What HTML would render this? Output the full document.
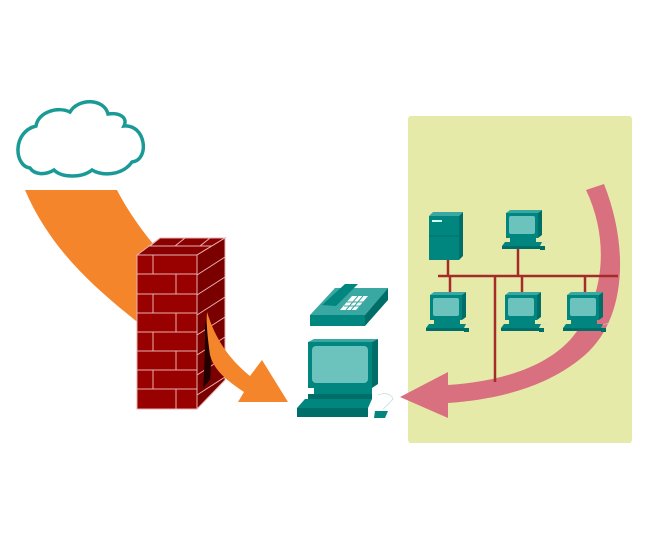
<!DOCTYPE html>
<html><head><meta charset="utf-8"><style>html,body{margin:0;padding:0;background:#fff}svg{display:block}</style></head><body>
<svg width="653" height="556" viewBox="0 0 653 556" xmlns="http://www.w3.org/2000/svg">
<defs>
<g id="pc">
  <polygon points="4,0 36,0 40,-3 8,-3" fill="#3aa8a2"/>
  <polygon points="36,0 40,-3 40,22 36,25" fill="#006e68"/>
  <rect x="4" y="0" width="32" height="25" fill="#00857f"/>
  <rect x="7" y="3" width="26" height="18" rx="2" fill="#6cc3bd"/>
  <rect x="8" y="25" width="26" height="4" fill="#00857f"/>
  <polygon points="3,29 40,29 38,33 0,33" fill="#00857f"/>
  <rect x="0" y="33" width="38" height="3" fill="#006e68"/>
  <rect x="38" y="33" width="5" height="4" fill="#006e68"/>
  <path d="M40,30 q6,-3 8,1" stroke="#cde" stroke-width="0.6" fill="none"/>
</g>
</defs>
<rect x="408" y="116" width="224" height="327" rx="3" fill="#e6eaa8"/>
<!-- cloud -->
<path d="M30,168 C14,166 12,132 36,126 C38,112 58,106 70,112 C78,98 104,98 108,114 C120,112 128,118 124,126 C146,124 150,160 132,162 C122,176 102,176 92,170 C82,178 62,178 54,170 C44,176 34,174 30,168 Z" fill="#fff" stroke="#1a9a96" stroke-width="3.5"/>
<path d="M25,190 L117,190 C130,215 145,235 165,258 L160,340 C110,300 55,260 25,190 Z" fill="#f5852a"/>
<!-- firewall -->
<polygon points="137,255 160,238 225,238 197,255" fill="#8a0000" stroke="#e8b0b0" stroke-width="1"/>
<polygon points="197,255 225,238 225,380 197,409" fill="#7a0000" stroke="#e8b0b0" stroke-width="1"/>
<rect x="137" y="255" width="60" height="154" fill="#990000" stroke="#e8b0b0" stroke-width="1"/>
<g stroke="#e8b0b0" stroke-width="1">
  <line x1="137" y1="274" x2="197" y2="274"/><line x1="137" y1="294" x2="197" y2="294"/>
  <line x1="137" y1="313" x2="197" y2="313"/><line x1="137" y1="332" x2="197" y2="332"/>
  <line x1="137" y1="351" x2="197" y2="351"/><line x1="137" y1="370" x2="197" y2="370"/>
  <line x1="137" y1="389" x2="197" y2="389"/>
  <line x1="153" y1="255" x2="153" y2="274"/><line x1="176" y1="274" x2="176" y2="294"/>
  <line x1="153" y1="294" x2="153" y2="313"/><line x1="176" y1="313" x2="176" y2="332"/>
  <line x1="153" y1="332" x2="153" y2="351"/><line x1="176" y1="351" x2="176" y2="370"/>
  <line x1="153" y1="370" x2="153" y2="389"/><line x1="176" y1="389" x2="176" y2="409"/>
  <line x1="197" y1="275" x2="225" y2="257"/><line x1="197" y1="295" x2="225" y2="277"/>
  <line x1="197" y1="315" x2="225" y2="297"/><line x1="197" y1="335" x2="225" y2="317"/>
  <line x1="197" y1="355" x2="225" y2="337"/><line x1="197" y1="375" x2="225" y2="357"/>
  <line x1="197" y1="395" x2="225" y2="377"/>
  <line x1="160" y1="238" x2="150" y2="246"/><line x1="185" y1="238" x2="175" y2="246"/><line x1="210" y1="238" x2="200" y2="246"/>
  <line x1="148" y1="246" x2="212" y2="246"/>
</g>
<path d="M205,320 C211,335 212,360 210,380 L203,388 C205,365 205,340 205,320 Z" fill="#200000"/>
<path d="M207,312 C215,338 228,358 250,376 L262,360 L288,402 L238,402 L244,392 C226,380 214,370 210,355 C208,340 206,325 207,312 Z" fill="#f5852a"/>
<!-- pink arrow (under network) -->
<path d="M586,190 L604,184 C630,250 625,320 585,355 C545,390 490,400 448,403 L448,418 L400,397 L448,372 L448,385 C490,382 540,372 570,340 C605,300 610,240 586,190 Z" fill="#d97080"/>
<!-- bus -->
<g stroke="#a52a2a" stroke-width="2.5">
  <line x1="438" y1="276" x2="618" y2="276"/>
  <line x1="448" y1="258" x2="448" y2="276"/>
  <line x1="518" y1="248" x2="518" y2="276"/>
  <line x1="450" y1="276" x2="450" y2="294"/>
  <line x1="522" y1="276" x2="522" y2="294"/>
  <line x1="585" y1="276" x2="585" y2="294"/>
  <line x1="495" y1="276" x2="495" y2="382"/>
</g>
<polygon points="429,216 433,212 463,212 459,216" fill="#3aa8a2"/>
<polygon points="459,216 463,212 463,256 459,260" fill="#006e68"/>
<rect x="429" y="216" width="30" height="44" fill="#00857f"/>
<rect x="432" y="220" width="10" height="2" fill="#cfe"/>
<line x1="429" y1="236" x2="459" y2="236" stroke="#006e68"/>
<use href="#pc" x="502" y="213"/>
<use href="#pc" x="426" y="295"/>
<use href="#pc" x="501" y="295"/>
<use href="#pc" x="563" y="295"/>
<!-- phone -->
<polygon points="310,315 335,288 388,288 365,315" fill="#3aa8a2"/>
<polygon points="365,315 388,288 388,300 365,326" fill="#006e68"/>
<rect x="310" y="315" width="55" height="11" fill="#00857f"/>
<polygon points="322,305 345,284 358,284 336,306" fill="#00857f"/>
<polygon points="340,310 352,296 368,296 356,310" fill="#fff"/>
<g stroke="#3aa8a2" stroke-width="1"><line x1="344" y1="306" x2="360" y2="306"/><line x1="347" y1="302" x2="363" y2="302"/><line x1="346" y1="310" x2="358" y2="296"/><line x1="351" y1="310" x2="363" y2="296"/></g>
<!-- big pc -->
<polygon points="308,342 372,342 378,339 314,339" fill="#3aa8a2"/>
<polygon points="372,342 378,339 378,384 372,388" fill="#006e68"/>
<rect x="308" y="342" width="64" height="46" fill="#00857f"/>
<rect x="312" y="346" width="56" height="37" rx="4" fill="#6cc3bd"/>
<rect x="314" y="388" width="58" height="6" fill="#00857f"/>
<rect x="308" y="394" width="64" height="5" fill="#006e68"/>
<polygon points="305,399 372,399 368,408 297,408" fill="#00857f"/>
<rect x="297" y="408" width="71" height="9" fill="#006e68"/>
<polygon points="375,411 388,411 385,418 374,418" fill="#00857f"/>
<path d="M378,395 q12,-4 15,4 q-5,6 -10,10" stroke="#bdd" stroke-width="0.7" fill="none"/>
</svg>
</body></html>
